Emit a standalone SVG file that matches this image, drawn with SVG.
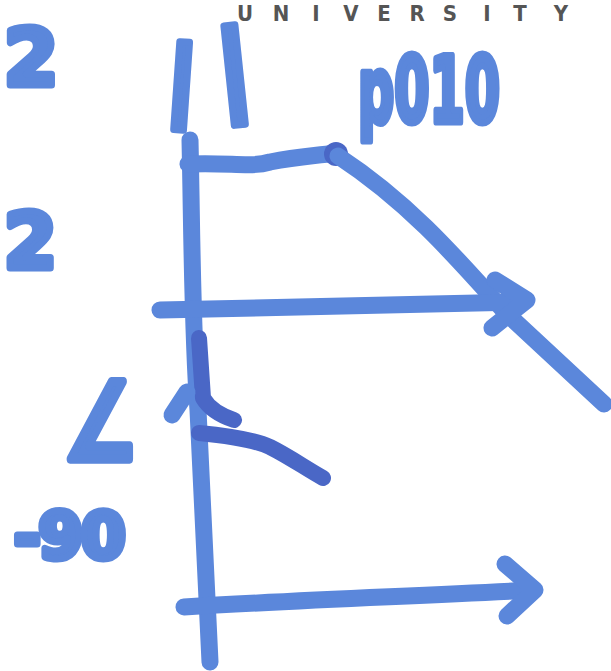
<svg xmlns="http://www.w3.org/2000/svg" width="611" height="671" viewBox="0 0 611 671">
<style>
.m{fill:none;stroke:#5b87db;stroke-width:17;stroke-linecap:round;stroke-linejoin:round}
.d{fill:none;stroke:#4a67c6;stroke-width:16;stroke-linecap:round;stroke-linejoin:round}
.h{font-family:"DejaVu Sans",sans-serif;font-weight:bold;fill:#5b87db;stroke:#5b87db;stroke-width:7;stroke-linejoin:round}
.u{font-family:"DejaVu Sans Condensed","DejaVu Sans",sans-serif;font-weight:bold;font-size:22px;fill:#555;text-anchor:middle}
</style>
<rect width="611" height="671" fill="#fff"/>
<g id="header">
<text class="u" x="245 281 316 351 384 417 450 487 520 561" y="21">UNIVERSITY</text>
</g>
<g id="labels">
<text class="h" x="4" y="85" font-size="78">2</text>
<text class="h" x="4" y="268" font-size="76">2</text>
<text class="h" x="166" y="110" font-size="88" stroke-width="9" transform="rotate(4 192 80)">|</text>
<text class="h" x="216" y="100" font-size="100" stroke-width="9" transform="rotate(-6 248 70)">|</text>
<text class="h" x="358" y="122" font-size="90" stroke-width="5" textLength="142" lengthAdjust="spacingAndGlyphs">p010</text>
<text class="h" x="64" y="458" font-size="80" transform="translate(0 -150) scale(1 1.33)">∠</text>
<text class="h" x="14" y="558" font-size="64" stroke-width="5" letter-spacing="-2">-90</text>
</g>
<g id="connectors">
<path class="m" d="M190,140 C192,230 192,330 198,410 C202,480 206,570 210,662"/>
<path class="m" d="M188,164 C230,162 250,168 270,162 C300,156 315,156 335,153"/>
<circle cx="336" cy="154" r="12" fill="#4a67c6"/>
<path class="m" d="M338,156 C405,200 450,250 505,312 L604,404"/>
<path class="m" d="M160,310 L522,302"/>
<path class="m" d="M495,280 L527,300 L492,328"/>
<path class="d" d="M199,338 L203,398 C210,410 222,416 234,420"/>
<path class="m" d="M172,415 L187,392"/>
<path class="d" d="M199,433 C230,436 255,440 270,447 C290,457 305,468 323,478"/>
<path class="m" d="M184,607 C300,600 420,596 534,590"/>
<path class="m" d="M505,564 L535,590 L507,616"/>
</g>
</svg>
